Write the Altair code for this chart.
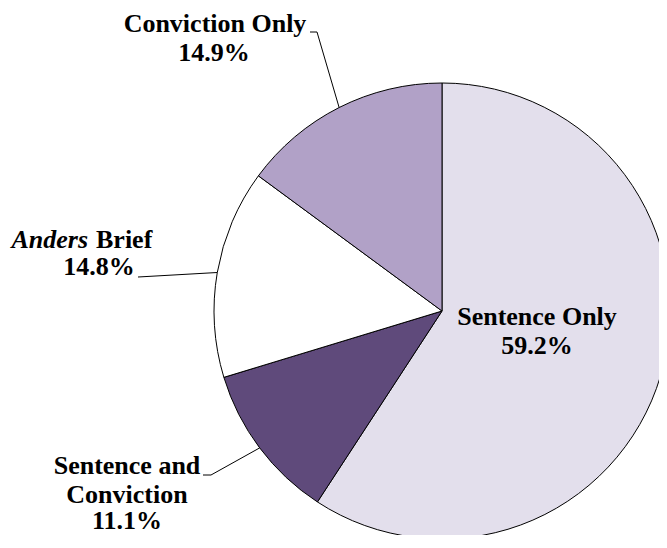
import math
import altair as alt
import pandas as pd

# ---- data ----
categories = ["Sentence Only", "Sentence and Conviction", "Anders Brief", "Conviction Only"]
shares = [59.2, 11.1, 14.8, 14.9]
colors = ["#e3dfec", "#5f4a7b", "#ffffff", "#b1a1c7"]

# ---- layout ----
W, H = 651, 527
CX, CY, R = 434, 303, 228
FONT = "Liberation Serif"
FS = 26

slices = pd.DataFrame({"category": categories, "share": shares, "idx": list(range(len(categories)))})
pct = {c: f"{s:.1f}%" for c, s in zip(categories, shares)}

# points on the arc at each slice's mid-angle (for leader lines)
total = sum(shares)
arc_pts = {}
cum = 0.0
for c, s in zip(categories, shares):
    mid = (cum + s / 2) / total * 2 * math.pi
    arc_pts[c] = (CX + R * math.sin(mid), CY - R * math.cos(mid))
    cum += s

# label layout: (category, text, x, y, align, style)
label_rows = [
    ("Conviction Only", "Conviction Only", 207, 24, "center", "normal"),
    ("Conviction Only", pct["Conviction Only"], 206, 53, "center", "normal"),
    ("Anders Brief", "Anders", 80, 240, "right", "italic"),
    ("Anders Brief", "Brief", 88, 240, "left", "normal"),
    ("Anders Brief", pct["Anders Brief"], 91, 267, "center", "normal"),
    ("Sentence and Conviction", "Sentence and", 119, 466, "center", "normal"),
    ("Sentence and Conviction", "Conviction", 119, 495, "center", "normal"),
    ("Sentence and Conviction", pct["Sentence and Conviction"], 119, 521, "center", "normal"),
    ("Sentence Only", "Sentence Only", 529, 317, "center", "normal"),
    ("Sentence Only", pct["Sentence Only"], 529, 346, "center", "normal"),
]
labels = pd.DataFrame(label_rows, columns=["category", "text", "x", "y", "align", "style"])

# leader lines: text end -> elbow -> arc
leader_starts = {
    "Conviction Only": [(302, 24), (309, 24)],
    "Anders Brief": [(130, 269)],
    "Sentence and Conviction": [(195, 467), (203, 467)],
}
lrows = []
for c, pts in leader_starts.items():
    allpts = pts + [arc_pts[c]]
    for i, (x, y) in enumerate(allpts):
        lrows.append({"category": c, "x": x, "y": y, "o": i})
leaders = pd.DataFrame(lrows)

xs = alt.Scale(domain=[0, W], range=[0, W], nice=False, zero=False)
ys = alt.Scale(domain=[0, H], range=[0, H], nice=False, zero=False)

pie = alt.Chart(slices).mark_arc(outerRadius=R, stroke="#000000", strokeWidth=1).encode(
    theta=alt.Theta("share:Q", stack=True),
    color=alt.Color("category:N", scale=alt.Scale(domain=categories, range=colors), legend=None),
    order=alt.Order("idx:Q"),
    x=alt.value(CX),
    y=alt.value(CY),
)

lines = alt.Chart(leaders).mark_line(color="#000000", strokeWidth=1).encode(
    x=alt.X("x:Q", scale=xs, axis=None),
    y=alt.Y("y:Q", scale=ys, axis=None),
    detail="category:N",
    order="o:Q",
)

def text_layer(align, style):
    d = labels[(labels["align"] == align) & (labels["style"] == style)]
    kw = dict(font=FONT, fontSize=FS, fontWeight="bold", align=align,
              baseline="alphabetic", color="#000000")
    if style == "italic":
        kw["fontStyle"] = "italic"
    return alt.Chart(d).mark_text(**kw).encode(
        x=alt.X("x:Q", scale=xs, axis=None),
        y=alt.Y("y:Q", scale=ys, axis=None),
        text="text:N",
    )

texts = [text_layer("center", "normal"), text_layer("right", "italic"), text_layer("left", "normal")]

chart = alt.layer(pie, lines, *texts).properties(
    width=W, height=H, autosize=alt.AutoSizeParams(type="none"), padding=0
).configure_view(stroke=None)

chart.save("out.html", embed_options={"renderer": "svg", "actions": False})
